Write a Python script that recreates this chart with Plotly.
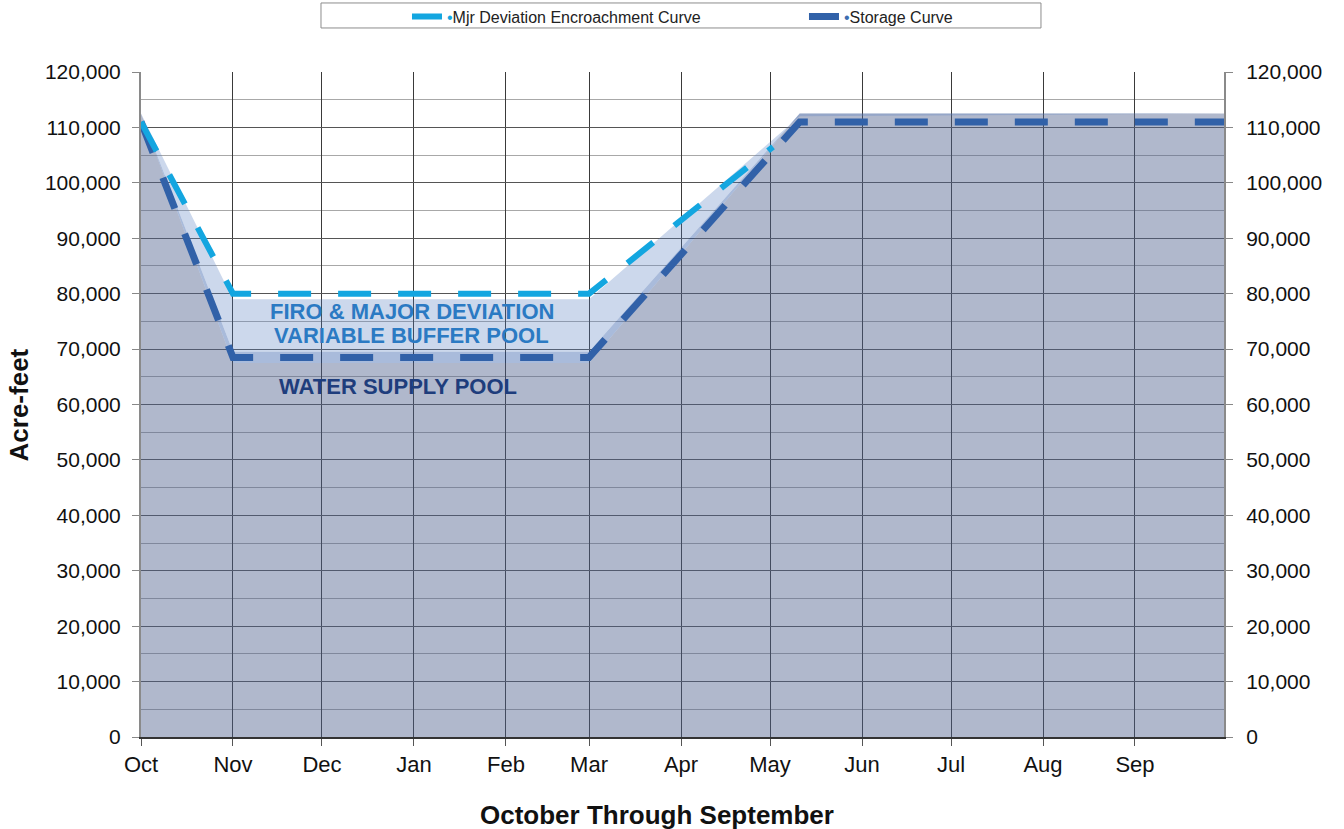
import plotly.graph_objects as go

# ---- data ----
month_labels = ["Oct", "Nov", "Dec", "Jan", "Feb", "Mar", "Apr", "May", "Jun", "Jul", "Aug", "Sep"]
month_start_days = [0, 31, 61, 92, 123, 151, 182, 212, 243, 273, 304, 335]
year_end_day = 365

# pool boundaries (day of water year -> acre-feet)
pool_days = [0, 31, 151, 222, 365]
water_supply_top = [112500, 67500, 67500, 112500, 112500]
buffer_edge_top = [112500, 69500, 69500, 112500, 112500]
buffer_pool_top = [112500, 79000, 79000, 112000, 112500]

# curves
storage_days = [0, 31, 151, 222, 365]
storage_values = [111000, 68500, 68500, 111000, 111000]
mjr_days = [0, 31, 151, 213]
mjr_values = [111000, 80000, 80000, 106500]

y_ticks = list(range(0, 120001, 10000))

FONT = "Liberation Sans, Arial, sans-serif"

# ---- figure ----
fig = go.Figure()

fig.add_trace(go.Scatter(
    x=pool_days, y=water_supply_top, mode="lines", line=dict(width=0),
    fill="tozeroy", fillcolor="rgba(79,97,142,0.45)", showlegend=False, hoverinfo="skip"))
fig.add_trace(go.Scatter(
    x=pool_days, y=buffer_edge_top, mode="lines", line=dict(width=0),
    fill="tonexty", fillcolor="rgba(40,85,165,0.40)", showlegend=False, hoverinfo="skip"))
fig.add_trace(go.Scatter(
    x=pool_days, y=buffer_pool_top, mode="lines", line=dict(width=0),
    fill="tonexty", fillcolor="rgba(85,125,192,0.30)", showlegend=False, hoverinfo="skip"))

fig.add_trace(go.Scatter(
    x=storage_days, y=storage_values, mode="lines",
    name="<span style='color:#3D6DB0'>\u2022</span>Storage Curve",
    line=dict(color="#3161A8", width=7, dash="33px,27px"), legendrank=2))
fig.add_trace(go.Scatter(
    x=mjr_days, y=mjr_values, mode="lines",
    name="<span style='color:#13A6E0'>\u2022</span>Mjr Deviation Encroachment Curve",
    line=dict(color="#13A6E0", width=6, dash="33px,27px"), legendrank=1))

# invisible trace to carry the right-hand axis
fig.add_trace(go.Scatter(
    x=storage_days, y=storage_values, yaxis="y2", mode="lines",
    line=dict(width=0), opacity=0, showlegend=False, hoverinfo="skip"))

fig.add_annotation(x=91.3, y=76700, xref="x", yref="y", text="FIRO & MAJOR DEVIATION",
                   showarrow=False, font=dict(family=FONT, size=22, color="#2B7AC3", weight="bold"))
fig.add_annotation(x=91.3, y=72500, xref="x", yref="y", text="VARIABLE BUFFER POOL",
                   showarrow=False, font=dict(family=FONT, size=22, color="#2B7AC3", weight="bold"))
fig.add_annotation(x=86.6, y=63300, xref="x", yref="y", text="WATER SUPPLY POOL",
                   showarrow=False, font=dict(family=FONT, size=22, color="#1E3D7C", weight="bold"))

# axis titles
fig.add_annotation(x=0.4765, y=-0.1173, xref="paper", yref="paper", text="<b>October Through September</b>",
                   showarrow=False, xanchor="center", yanchor="middle",
                   font=dict(family=FONT, size=26, color="#111111"))
fig.add_annotation(x=-0.1127, y=0.5, xref="paper", yref="paper", text="<b>Acre-feet</b>",
                   showarrow=False, textangle=-90, xanchor="center", yanchor="middle",
                   font=dict(family=FONT, size=26, color="#111111"))

# legend frame
fig.add_shape(type="rect", xref="paper", yref="paper",
              x0=0.1662, x1=0.831, y0=1.0662, y1=1.1038,
              line=dict(color="#8C8C8C", width=1), fillcolor="rgba(0,0,0,0)", layer="above")

tick_font = dict(family=FONT, size=21, color="#111111")

fig.update_layout(
    width=1344, height=829,
    margin=dict(l=141, r=120, t=72, b=92, autoexpand=False),
    paper_bgcolor="white", plot_bgcolor="white",
    showlegend=True,
    legend=dict(orientation="h", x=0.2456, xanchor="left", y=1.109, yanchor="top",
                entrywidth=352, entrywidthmode="pixels",
                font=dict(family=FONT, size=16, color="#222222"),
                bgcolor="rgba(0,0,0,0)", borderwidth=0, traceorder="normal"),
    xaxis=dict(range=[0, year_end_day], tickmode="array", tickvals=month_start_days,
               ticktext=month_labels, tickfont=dict(family=FONT, size=22, color="#111111"),
               showgrid=True, gridcolor="#3A3A3A", gridwidth=1,
               showline=True, linecolor="#333333", linewidth=1.5,
               ticks="outside", ticklen=7, tickcolor="#555555", zeroline=False),
    yaxis=dict(range=[0, 120000], tickmode="array", tickvals=y_ticks, tickformat=",d",
               tickfont=tick_font, showgrid=True, gridcolor="#555555", gridwidth=1,
               minor=dict(dtick=5000, showgrid=True, gridcolor="#A8A8A8", gridwidth=1),
               showline=True, linecolor="#8A8A8A", linewidth=2, ticklabelstandoff=7,
               ticks="outside", ticklen=7, tickcolor="#888888", zeroline=False),
    yaxis2=dict(overlaying="y", side="right", matches="y", range=[0, 120000],
                tickmode="array", tickvals=y_ticks, tickformat=",d", tickfont=tick_font,
                showgrid=False, showline=True, linecolor="#8A8A8A", linewidth=2, ticklabelstandoff=9,
                ticks="outside", ticklen=7, tickcolor="#888888", zeroline=False),
)

fig.write_html("out.html", config={"displayModeBar": False},
               post_script="document.body.style.margin='0px';document.body.style.overflow='hidden';")
